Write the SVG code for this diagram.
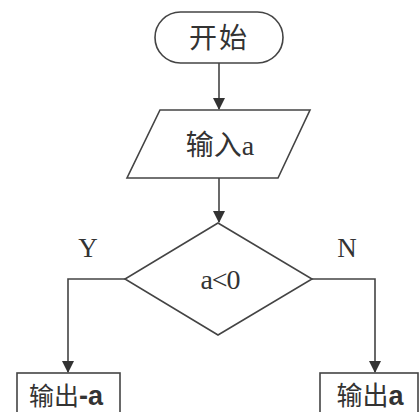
<svg xmlns="http://www.w3.org/2000/svg" width="420" height="412" viewBox="0 0 420 412">
<style>
.s{fill:#fff;stroke:#444;stroke-width:1.6}
.c{fill:none;stroke:#444;stroke-width:1.6}
.t{font-family:"Liberation Serif","Noto Sans CJK SC",serif;fill:#333;text-anchor:middle}
.sans{font-family:"Liberation Sans","Noto Sans CJK SC",sans-serif}
</style>
<defs>
<marker id="ah" markerWidth="12" markerHeight="16" refX="11" refY="6" orient="auto" markerUnits="userSpaceOnUse">
<path d="M0,0 L12,6 L0,12 Z" fill="#333"/>
</marker>
</defs>
<rect width="420" height="412" fill="#fff"/>
<g id="connectors">
<line class="c" x1="219" y1="63" x2="219" y2="109" marker-end="url(#ah)"/>
<line class="c" x1="219" y1="178" x2="219" y2="222" marker-end="url(#ah)"/>
<polyline class="c" points="125,279 68,279 68,372" marker-end="url(#ah)"/>
<polyline class="c" points="312,279 375,279 375,372" marker-end="url(#ah)"/>
<text class="t" x="88" y="257" font-size="27">Y</text>
<text class="t" x="347" y="257" font-size="27">N</text>
</g>
<g id="start">
<rect class="s" x="155" y="12" width="128" height="51" rx="25.5"/>
<text class="t" x="219" y="48" font-size="28" letter-spacing="2">开始</text>
</g>
<g id="input">
<polygon class="s" points="160,110 310,110 278,178 127,178"/>
<text class="t" x="220" y="155" font-size="28">输入a</text>
</g>
<g id="decision">
<polygon class="s" points="218,223 312,279 218,335 125,279"/>
<text class="t" x="220" y="289" font-size="28" letter-spacing="-1">a&lt;0</text>
</g>
<g id="out-neg">
<rect class="s" x="17" y="373" width="103" height="50"/>
<text class="t" x="66" y="405" font-size="25"><tspan>输出</tspan><tspan class="sans" font-weight="bold" font-size="27">-a</tspan></text>
</g>
<g id="out-pos">
<rect class="s" x="320" y="373" width="98" height="50"/>
<text class="t" x="370" y="405" font-size="26"><tspan>输出</tspan><tspan class="sans" font-weight="bold" font-size="27">a</tspan></text>
</g>
</svg>
